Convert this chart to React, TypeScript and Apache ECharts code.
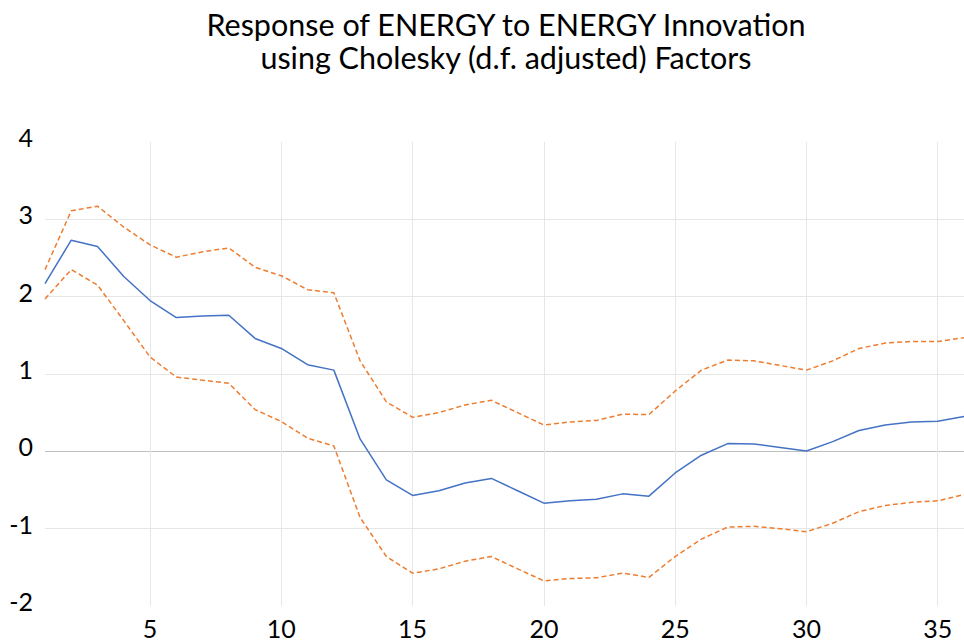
import React, { useEffect, useRef } from "react";
import * as echarts from "echarts";

const periods = Array.from({ length: 36 }, (_, i) => String(i + 1));

const response = [
  2.17, 2.73, 2.65, 2.26, 1.95, 1.73, 1.75, 1.76, 1.46, 1.33,
  1.12, 1.05, 0.16, -0.37, -0.57, -0.51, -0.41, -0.35, -0.51, -0.67,
  -0.64, -0.62, -0.55, -0.58, -0.28, -0.05, 0.10, 0.095, 0.05, 0.005,
  0.125, 0.27, 0.34, 0.38, 0.39, 0.45,
];

const upperBand = [
  2.35, 3.11, 3.17, 2.90, 2.67, 2.51, 2.58, 2.63, 2.38, 2.27,
  2.09, 2.05, 1.17, 0.64, 0.44, 0.50, 0.60, 0.66, 0.50, 0.34,
  0.38, 0.40, 0.48, 0.475, 0.78, 1.05, 1.18, 1.17, 1.11, 1.05,
  1.17, 1.33, 1.40, 1.42, 1.42, 1.47,
];

const lowerBand = [
  1.97, 2.35, 2.15, 1.69, 1.22, 0.96, 0.92, 0.88, 0.54, 0.385,
  0.17, 0.07, -0.855, -1.36, -1.575, -1.52, -1.42, -1.36, -1.52, -1.675,
  -1.645, -1.635, -1.575, -1.63, -1.36, -1.135, -0.98, -0.97, -1.0, -1.04,
  -0.93, -0.78, -0.70, -0.66, -0.64, -0.56,
];

const titleLines = [
  "Response of ENERGY to ENERGY Innovation",
  "using Cholesky (d.f. adjusted) Factors",
];

const FONT = "Lato, 'Open Sans', sans-serif";

export default function App() {
  const ref = useRef<HTMLDivElement>(null);
  useEffect(() => {
    if (!ref.current) return;
    const chart = echarts.init(ref.current, undefined, { renderer: "svg" });
    const showTick = (idx: number) => (idx + 1) % 5 === 0;
    chart.setOption({
      animation: false,
      backgroundColor: "#ffffff",
      textStyle: { fontFamily: FONT },
      graphic: [
        {
          type: "text",
          style: {
            text: titleLines[0],
            x: 506,
            y: 24,
            textAlign: "center",
            textVerticalAlign: "middle",
            font: `30.5px ${FONT}`,
            fill: "#000000",
          },
        },
        {
          type: "text",
          style: {
            text: titleLines[1],
            x: 506,
            y: 57,
            textAlign: "center",
            textVerticalAlign: "middle",
            font: `30.5px ${FONT}`,
            fill: "#000000",
          },
        },
      ],
      grid: { left: 45, top: 142, width: 922, bottom: 38, containLabel: false },
      xAxis: {
        type: "category",
        data: periods,
        boundaryGap: false,
        axisLine: { show: false },
        axisTick: { show: false },
        axisLabel: {
          interval: (idx: number) => showTick(idx),
          fontSize: 25,
          color: "#000000",
          fontFamily: FONT,
          margin: 9,
        },
        splitLine: {
          show: true,
          interval: (idx: number) => showTick(idx),
          lineStyle: { color: "#e6e6e6", width: 1 },
        },
      },
      yAxis: {
        type: "value",
        min: -2,
        max: 4,
        interval: 1,
        axisLine: { show: false },
        axisTick: { show: false },
        axisLabel: {
          fontSize: 25,
          color: "#000000",
          fontFamily: FONT,
          margin: 12,
          verticalAlign: "bottom",
          lineHeight: 10,
        },
        splitLine: {
          show: true,
          lineStyle: {
            color: [
              "rgba(0,0,0,0)",
              "#e6e6e6",
              "#bfbfbf",
              "#e6e6e6",
              "#e6e6e6",
              "#e6e6e6",
              "rgba(0,0,0,0)",
            ],
            width: 1,
          },
        },
      },
      series: [
        {
          name: "Upper",
          type: "line",
          data: upperBand,
          symbol: "none",
          lineStyle: { color: "#ED7D31", width: 1.5, type: [5, 3] },
        },
        {
          name: "Lower",
          type: "line",
          data: lowerBand,
          symbol: "none",
          lineStyle: { color: "#ED7D31", width: 1.5, type: [5, 3] },
        },
        {
          name: "Response",
          type: "line",
          data: response,
          symbol: "none",
          lineStyle: { color: "#4472C4", width: 1.5 },
        },
      ],
    });
    return () => chart.dispose();
  }, []);
  return (
    <div
      ref={ref}
      style={{ position: "absolute", left: 0, top: 0, width: 964, height: 644 }}
    />
  );
}
